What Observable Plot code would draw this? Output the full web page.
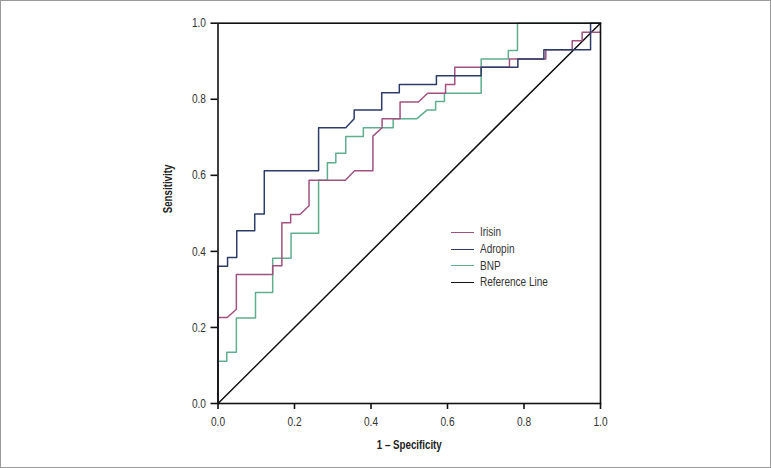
<!DOCTYPE html>
<html>
<head>
<meta charset="utf-8">
<script src="https://cdn.jsdelivr.net/npm/d3@7"></script>
<script src="https://cdn.jsdelivr.net/npm/@observablehq/plot@0.6"></script>
<style>
  html, body { margin: 0; padding: 0; background: #fff; }
  #wrap { position: relative; width: 771px; height: 468px; overflow: hidden; }
  #border { position: absolute; left: 0; top: 0; width: 771px; height: 468px; box-sizing: border-box; border: 1px solid #9a9a9a; pointer-events: none; }
  #legend { position: absolute; left: 451px; top: 224px; font-family: "Liberation Sans Narrow", "Arial Narrow", "Liberation Sans", sans-serif; font-size: 12.5px; color: #333; }
  #legend .row { display: flex; align-items: center; height: 16.7px; }
  #legend .sw { width: 23px; height: 0; border-top: 1.6px solid; margin-right: 6px; }
  #legend .lbl { display: inline-block; transform: scaleX(0.8); transform-origin: left center; white-space: nowrap; }
</style>
</head>
<body>
<div id="wrap">
  <div id="chart"></div>
  <div id="legend"></div>
  <div id="border"></div>
</div>
<script>
// Series names and colours
const seriesNames = ["Irisin", "Adropin", "BNP"];
const seriesColors = ["#a2517f", "#2b3d66", "#5fae8e"];
const refName = "Reference Line";

// Irisin ROC (1 - specificity, sensitivity)
const irisinX = [0, 0, 0.024, 0.048, 0.048, 0.143, 0.143, 0.167, 0.167, 0.190, 0.190, 0.214, 0.238, 0.238, 0.333, 0.357, 0.405, 0.405, 0.429, 0.429, 0.476, 0.476, 0.524, 0.548, 0.595, 0.595, 0.619, 0.619, 0.762, 0.762, 0.857, 0.857, 0.926, 0.926, 0.952, 0.952, 1];
const irisinY = [0, 0.226, 0.226, 0.248, 0.339, 0.339, 0.362, 0.362, 0.475, 0.475, 0.497, 0.497, 0.52, 0.587, 0.587, 0.612, 0.612, 0.703, 0.725, 0.749, 0.749, 0.793, 0.793, 0.816, 0.816, 0.839, 0.839, 0.884, 0.884, 0.906, 0.906, 0.93, 0.93, 0.954, 0.954, 0.976, 0.976];

// Adropin ROC
const adropinX = [0, 0, 0.025, 0.025, 0.049, 0.049, 0.096, 0.096, 0.121, 0.121, 0.263, 0.263, 0.334, 0.356, 0.356, 0.428, 0.428, 0.474, 0.474, 0.571, 0.571, 0.688, 0.688, 0.784, 0.784, 0.852, 0.852, 0.974, 0.974, 1];
const adropinY = [0, 0.361, 0.361, 0.384, 0.384, 0.454, 0.454, 0.498, 0.498, 0.612, 0.612, 0.725, 0.725, 0.749, 0.772, 0.772, 0.817, 0.817, 0.839, 0.839, 0.862, 0.862, 0.884, 0.884, 0.906, 0.906, 0.93, 0.93, 1, 1];

// BNP ROC
const bnpX = [0, 0, 0.023, 0.023, 0.048, 0.048, 0.098, 0.098, 0.143, 0.143, 0.191, 0.191, 0.263, 0.263, 0.286, 0.286, 0.308, 0.308, 0.334, 0.334, 0.38, 0.38, 0.458, 0.458, 0.52, 0.547, 0.569, 0.569, 0.592, 0.592, 0.688, 0.688, 0.759, 0.759, 0.783, 0.783, 1];
const bnpY = [0, 0.111, 0.111, 0.135, 0.135, 0.225, 0.225, 0.292, 0.292, 0.382, 0.382, 0.448, 0.448, 0.587, 0.587, 0.633, 0.633, 0.658, 0.658, 0.702, 0.702, 0.725, 0.725, 0.749, 0.749, 0.772, 0.772, 0.794, 0.794, 0.816, 0.816, 0.906, 0.906, 0.928, 0.928, 1, 1];

// Reference diagonal
const refX = [0, 1];
const refY = [0, 1];

// Axis ticks
const ticks = [0, 0.2, 0.4, 0.6, 0.8, 1.0];
const xTitle = "1 – Specificity";
const yTitle = "Sensitivity";

const toRows = (xs, ys, name) => xs.map((x, i) => ({x, y: ys[i], name}));
const rows = [
  ...toRows(refX, refY, refName),
  ...toRows(bnpX, bnpY, "BNP"),
  ...toRows(irisinX, irisinY, "Irisin"),
  ...toRows(adropinX, adropinY, "Adropin")
];

const font = '"Liberation Sans Narrow", "Arial Narrow", "Liberation Sans", sans-serif';

const chart = Plot.plot({
  width: 771,
  height: 468,
  marginLeft: 217.5,
  marginRight: 171,
  marginTop: 22.7,
  marginBottom: 65,
  style: {fontFamily: font, fontSize: "13px", color: "#333", background: "#fff", overflow: "visible"},
  x: {domain: [0, 1]},
  y: {domain: [0, 1]},
  color: {domain: [...seriesNames, refName], range: [...seriesColors, "#111"]},
  marks: [
    Plot.line(rows, {x: "x", y: "y", z: "name", stroke: "name", strokeWidth: 1.5, curve: "linear"}),
    Plot.frame({stroke: "#111", strokeWidth: 1.6}),
    Plot.axisX({ticks, tickFormat: d3.format(".1f"), tickSize: 6, tickPadding: 7, label: null, stroke: "#111", strokeWidth: 1.6, fontSize: 13}),
    Plot.axisY({ticks, tickFormat: d3.format(".1f"), tickSize: 7, tickPadding: 5, label: null, stroke: "#111", strokeWidth: 1.6, fontSize: 13}),
    Plot.text([xTitle], {frameAnchor: "bottom", dy: 45.5, fontWeight: "bold", fontSize: 12.5, fill: "#222"}),
    Plot.text([yTitle], {frameAnchor: "left", dx: -50, rotate: -90, fontWeight: "bold", fontSize: 12.5, fill: "#222"})
  ]
});
document.getElementById("chart").appendChild(chart);

// Condense the text horizontally (reference uses a narrow face) without moving its anchor
const squeeze = 0.78;
chart.querySelectorAll("text").forEach(el => {
  const len = el.getComputedTextLength();
  if (len > 0) {
    el.setAttribute("textLength", (len * squeeze).toFixed(2));
    el.setAttribute("lengthAdjust", "spacingAndGlyphs");
  }
});

// Legend
const legend = document.getElementById("legend");
[...seriesNames, refName].forEach((n, i) => {
  const row = document.createElement("div");
  row.className = "row";
  const sw = document.createElement("span");
  sw.className = "sw";
  sw.style.borderTopColor = i < seriesColors.length ? seriesColors[i] : "#111";
  const t = document.createElement("span");
  t.className = "lbl";
  t.textContent = n;
  row.appendChild(sw);
  row.appendChild(t);
  legend.appendChild(row);
});
</script>
</body>
</html>
